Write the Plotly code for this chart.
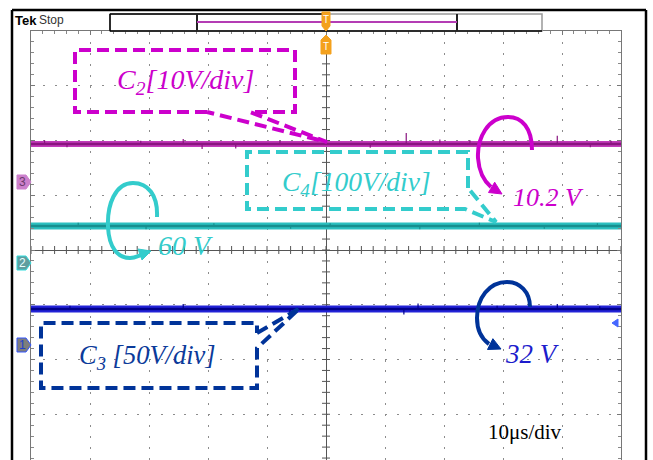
import plotly.graph_objects as go

# ---- channel data -------------------------------------------------------
channel_names = ["C2", "C4", "C3"]
channel_volts = [10.2, 60, 32]            # measured DC level of each channel
volts_per_div = [10, 100, 50]             # vertical scale of each channel
position_div = [0.916, -0.162, -1.718]    # vertical position offset (div)
time_per_div_label = "10μs/div"

# noise spikes on each trace: time (div from centre) and height (div)
spike_t_c2 = [-4.77, -4.39, -3.14, -2.42, -2.10, -1.53, -0.78, 0.75, 1.36, 1.93, 2.44, 3.49, 3.92, 4.48, 4.83]
spike_a_c2 = [0.07, -0.06, 0.06, 0.09, -0.09, -0.08, 0.06, -0.07, 0.20, 0.08, 0.07, -0.11, 0.15, -0.06, 0.06]
spike_t_c4 = [-4.20, -3.05, -1.90, -0.60, 0.07, 1.59, 2.60, 3.70, 4.60]
spike_a_c4 = [0.06, -0.06, 0.05, -0.05, 0.05, -0.06, 0.06, -0.05, 0.05]
spike_t_c3 = [-4.34, -2.42, -0.61, 1.32, 1.56, 2.90, 3.92, 4.64]
spike_a_c3 = [0.06, 0.09, -0.06, -0.10, 0.10, 0.06, 0.09, 0.05]

trace_core = ["#8a1580", "#178f8f", "#00008c"]
trace_halo = ["#c23cba", "#2cc0c0", "#2323d8"]
label_color = ["#cc00cc", "#33cccc", "#0b3a9a"]

# ---- geometry helpers ---------------------------------------------------
W, H = 653, 460
L, T, R = 31, 31, 621           # graticule edges in page pixels
XDIV = (R - L) / 10.0
YDIV = 54.75
Y_TOP = 4.0
Y_BOT = Y_TOP - (H - T) / YDIV


def P(x, y):
    """page pixel -> paper coordinates"""
    return (x - L) / (R - L), (H - y) / (H - T)


def fmt(pt):
    return "%.5f,%.5f" % P(*pt)


def path(cmds):
    """Build an SVG path; every segment gets its own command letter."""
    out = []
    for c, pts in cmds:
        if c == "Z":
            out.append("Z")
        elif c == "C":
            for j in range(0, len(pts), 3):
                out.append("C " + " ".join(fmt(p) for p in pts[j:j + 3]))
        else:
            for j, p in enumerate(pts):
                out.append(("M " if (c == "M" and j == 0) else "L ") + fmt(p))
    return " ".join(out)


fig = go.Figure()

# ---- centre-line tick marks ---------------------------------------------
tx, ty = [], []
k = -25
while k <= 25:
    v = k * 0.2
    tx += [v, v, None]
    ty += [-4.0 / YDIV, 4.0 / YDIV, None]
    k += 1
k = -19
while k <= 20:
    v = k * 0.2
    tx += [-4.0 / XDIV, 4.0 / XDIV, None]
    ty += [v, v, None]
    k += 1
fig.add_trace(go.Scatter(x=tx, y=ty, mode="lines", line=dict(color="#555", width=1),
                         hoverinfo="skip", showlegend=False))

# ---- traces ---------------------------------------------------------------
spikes = [(spike_t_c2, spike_a_c2), (spike_t_c4, spike_a_c4), (spike_t_c3, spike_a_c3)]
for i in range(3):
    level = position_div[i] + channel_volts[i] / volts_per_div[i]
    fig.add_trace(go.Scatter(x=[-5, 5], y=[level, level], mode="lines",
                             line=dict(color=trace_halo[i], width=7 if i else 6),
                             hoverinfo="skip", showlegend=False))
    fig.add_trace(go.Scatter(x=[-5, 5], y=[level, level], mode="lines",
                             line=dict(color=trace_core[i], width=2.5),
                             name=channel_names[i], showlegend=False))
    sx, sy = [], []
    for t, a in zip(*spikes[i]):
        sx += [t, t, None]
        sy += [level, level + a, None]
    fig.add_trace(go.Scatter(x=sx, y=sy, mode="lines", line=dict(color=trace_core[i], width=1.2),
                             hoverinfo="skip", showlegend=False))

shapes = []
annos = []


def seg(x0, y0, x1, y1, color, width):
    a, b = P(x0, y0)
    c, d = P(x1, y1)
    shapes.append(dict(type="line", xref="paper", yref="paper", x0=a, y0=b, x1=c, y1=d,
                       line=dict(color=color, width=width)))


def poly(pts, fill, edge, width=1):
    shapes.append(dict(type="path", xref="paper", yref="paper",
                       path=path([("M", pts), ("Z", [])]),
                       fillcolor=fill, line=dict(color=edge, width=width)))


# ---- outer frame and header bar -----------------------------------------
seg(12, 10, 12, 461, "black", 2.5)
seg(12, 10, 646, 10, "black", 2.5)
seg(646, 10, 646, 461, "black", 2.5)

a, b = P(110, 14); c, d = P(542, 31)
shapes.append(dict(type="rect", xref="paper", yref="paper", x0=a, y0=b, x1=c, y1=d,
                   line=dict(color="#999", width=1.5), fillcolor="white"))
seg(110, 14, 326, 14, "black", 1.5)
seg(110, 14, 110, 31, "black", 1.5)
seg(110, 31, 542, 31, "black", 1.5)
seg(197, 14, 197, 31, "#222", 2)
seg(457, 14, 457, 31, "#222", 2)
seg(197, 22, 457, 22, "#b43cb4", 2)

annos.append(dict(xref="paper", yref="paper", x=P(13, 20)[0], y=P(13, 20)[1], text="<b>Tek</b>",
                  showarrow=False, xanchor="left", yanchor="middle",
                  font=dict(family="Liberation Sans Narrow, Arial Narrow, Arial", size=13, color="black")))
annos.append(dict(xref="paper", yref="paper", x=P(37, 20)[0], y=P(37, 20)[1], text="Stop",
                  showarrow=False, xanchor="left", yanchor="middle",
                  font=dict(family="Liberation Sans Narrow, Arial", size=12, color="#333")))

# trigger markers
ORANGE = "#f4a11d"
poly([(322, 12), (330, 12), (330, 26), (326, 31), (322, 26)], ORANGE, ORANGE)
poly([(326, 35), (331, 40), (331, 54), (321, 54), (321, 40)], ORANGE, ORANGE)
for yy in (19, 47):
    annos.append(dict(xref="paper", yref="paper", x=P(326, yy)[0], y=P(326, yy)[1], text="T",
                      showarrow=False, xanchor="center", yanchor="middle",
                      font=dict(family="Liberation Sans Narrow, Arial", size=10, color="white")))

# channel ground markers
markers = [("3", 182, "#cc80cc", "#cc80cc", "#6b3a6b"),
           ("2", 263, "#5f9ea0", "#33dddd", "#e8ffff"),
           ("1", 345, "#7d7d7d", "#3355ff", "#2040d0")]
for txt, yy, fill, edge, tc in markers:
    poly([(17, yy - 7), (26, yy - 7), (31, yy), (26, yy + 7), (17, yy + 7)], fill, edge)
    annos.append(dict(xref="paper", yref="paper", x=P(22, yy)[0], y=P(22, yy)[1], text=txt,
                      showarrow=False, xanchor="center", yanchor="middle",
                      font=dict(family="Liberation Sans Narrow, Arial", size=12, color=tc)))
poly([(612, 323), (618, 319), (618, 327)], "#4466ff", "#4466ff")

# ---- callout boxes -----------------------------------------------------
callouts = [
    ([(207, 112), (75, 112), (75, 50), (295, 50), (295, 112), (250, 112), (327, 142), (207, 112)],
     label_color[0]),
    ([(468, 188), (468, 152), (247, 152), (247, 209), (465, 209), (496, 222), (468, 188)],
     label_color[1]),
    ([(257, 333), (300, 308), (257, 348), (257, 388), (41, 388), (41, 323), (257, 323), (257, 333)],
     "#003399"),
]
for pts, col in callouts:
    shapes.append(dict(type="path", xref="paper", yref="paper", path=path([("M", pts)]),
                       line=dict(color=col, width=4, dash="12px,6px")))

SERIF = "Liberation Serif, Times New Roman, serif"
box_text = [
    ("<i>C<sub>2</sub>[10V/div]</i>", 185, 81, label_color[0], 28),
    ("<i>C<sub>4</sub>[100V/div]</i>", 357, 183, label_color[1], 27.5),
    ("<i>C<sub>3</sub> [50V/div]</i>", 147, 357, "#0b3a9a", 26.5),
]
for txt, xx, yy, col, fs in box_text:
    annos.append(dict(xref="paper", yref="paper", x=P(xx, yy)[0], y=P(xx, yy)[1], text=txt,
                      showarrow=False, xanchor="center", yanchor="middle",
                      font=dict(family=SERIF, size=fs, color=col)))

# ---- curved arrows with measured values -----------------------------------
loops = [
    ([("M", [(157, 217)]), ("C", [(158, 195), (148, 183), (133, 183),
                                  (115, 183), (107, 205), (108, 227),
                                  (109, 248), (118, 258), (130, 258),
                                  (135, 258), (138, 256), (141, 255)])],
     [(151, 251), (142, 260), (138, 249)], label_color[1]),
    ([("M", [(532, 150)]), ("C", [(532, 128), (522, 117), (508, 117),
                                  (488, 117), (477, 138), (478, 158),
                                  (479, 172), (484, 181), (491, 187)])],
     [(502, 194), (488.5, 192.5), (494.7, 182.2)], label_color[0]),
    ([("M", [(530, 307)]), ("C", [(530, 292), (520, 282), (507, 282),
                                  (489, 282), (477, 298), (477, 318),
                                  (477, 332), (482, 339), (489, 344)])],
     [(501, 349), (487.5, 349.5), (492.9, 338.7)], "#003399"),
]
for cmds, head, col in loops:
    shapes.append(dict(type="path", xref="paper", yref="paper", path=path(cmds),
                       line=dict(color=col, width=4)))
    poly(head, col, col)

value_text = [
    (channel_volts[1], 185, 245, label_color[1], 28),
    (channel_volts[0], 548, 197, label_color[0], 26),
    (channel_volts[2], 532, 354, "#1c1ccc", 27),
]
for v, xx, yy, col, fs in value_text:
    annos.append(dict(xref="paper", yref="paper", x=P(xx, yy)[0], y=P(xx, yy)[1],
                      text="<i>%g V</i>" % v, showarrow=False, xanchor="center", yanchor="middle",
                      font=dict(family=SERIF, size=fs, color=col)))

annos.append(dict(xref="paper", yref="paper", x=P(525, 432)[0], y=P(525, 432)[1],
                  text=time_per_div_label, showarrow=False, xanchor="center", yanchor="middle",
                  font=dict(family=SERIF, size=21, color="black")))

# ---- axes as a scope graticule --------------------------------------------
grid_common = dict(showticklabels=False, showgrid=True, gridcolor="#8c8c8c", gridwidth=1,
                   zeroline=True, zerolinecolor="#555", zerolinewidth=1,
                   showline=True, linecolor="#777", linewidth=1,
                   ticks="inside", ticklen=4, tickcolor="#777", dtick=1, tick0=0,
                   minor=dict(dtick=0.2, ticks="inside", ticklen=3, tickcolor="#888", showgrid=False),
                   fixedrange=True)
fig.update_xaxes(range=[-5, 5], side="top", mirror=False, griddash="2px,8.95px", **grid_common)
fig.update_yaxes(range=[Y_BOT, Y_TOP], mirror="ticks", griddash="2px,9.8px", **grid_common)

fig.update_layout(width=W, height=H, margin=dict(l=L, r=W - R, t=T, b=0, pad=0),
                  paper_bgcolor="white", plot_bgcolor="white",
                  shapes=shapes, annotations=annos, showlegend=False, dragmode=False)

fig.write_html("out.html", config=dict(displayModeBar=False, staticPlot=True))
